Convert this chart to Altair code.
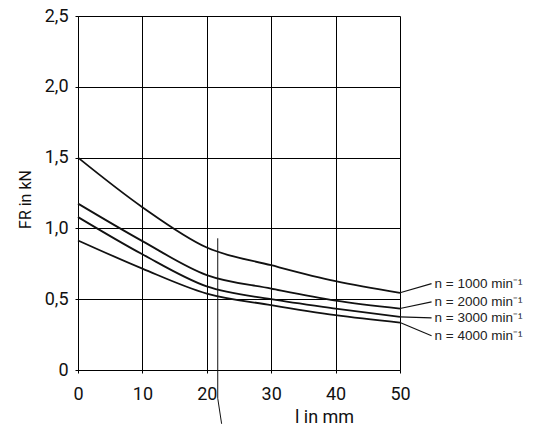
import altair as alt
import pandas as pd

# ---- data ----
x_vals = [0, 10, 20, 30, 40, 50]
n1000 = [1.50, 1.15, 0.865, 0.74, 0.627, 0.545]
n2000 = [1.175, 0.91, 0.67, 0.575, 0.49, 0.434]
n3000 = [1.08, 0.817, 0.59, 0.50, 0.434, 0.375]
n4000 = [0.915, 0.716, 0.54, 0.458, 0.387, 0.335]
series_names = ["n = 1000 min⁻¹", "n = 2000 min⁻¹", "n = 3000 min⁻¹", "n = 4000 min⁻¹"]
series_vals = [n1000, n2000, n3000, n4000]
label_x = [54.9, 54.9, 54.9, 54.9]
label_y = [0.61, 0.481, 0.368, 0.242]
x_ticks = [0, 10, 20, 30, 40, 50]
y_ticks = [0, 0.5, 1.0, 1.5, 2.0, 2.5]
pointer_x = [21.7, 21.7, 22.3]
pointer_y = [0.93, -0.2, -0.38]

AXF = "Roboto, Liberation Sans, sans-serif"
REG = "Liberation Sans, Arial, sans-serif"

rows = []
for name, vals in zip(series_names, series_vals):
    for xv, yv in zip(x_vals, vals):
        rows.append({"series": name, "l": xv, "F": yv})
curves_df = pd.DataFrame(rows)

lead_rows = []
for i, (name, vals) in enumerate(zip(series_names, series_vals)):
    lead_rows.append({"series": name, "l": x_vals[-1], "F": vals[-1], "o": 0})
    lead_rows.append({"series": name, "l": label_x[i], "F": label_y[i], "o": 1})
lead_df = pd.DataFrame(lead_rows)

lab_df = pd.DataFrame({"series": series_names, "l": label_x, "F": label_y})
ptr_df = pd.DataFrame({"l": pointer_x, "F": pointer_y, "o": [0, 1, 2]})

xscale = alt.Scale(domain=[0, 50], nice=False, zero=False)
yscale = alt.Scale(domain=[0, 2.5], nice=False, zero=False)

xaxis = alt.Axis(
    values=x_ticks, grid=True, gridColor="black", gridWidth=1, gridOpacity=1,
    domainColor="black", domainWidth=1, tickColor="black", tickSize=3,
    labelFont=AXF, labelFontSize=18, labelColor="#111", labelPadding=12,
    labelFlush=False, labelOverlap=False,
    title="l in mm", titleFont=AXF, titleFontSize=18, titleFontWeight="normal",
    titleColor="#111", titleX=246, titleY=52, titleAlign="center",
    titleBaseline="alphabetic",
)
yaxis = alt.Axis(
    values=y_ticks, grid=True, gridColor="black", gridWidth=1, gridOpacity=1,
    domainColor="black", domainWidth=1, tickColor="black", tickSize=3,
    labelFont=AXF, labelFontSize=18, labelColor="#111", labelPadding=7,
    labelFlush=False, labelOverlap=False,
    labelExpr="datum.value == 0 ? '0' : replace(format(datum.value, '.1f'), '.', ',')",
    title="FR in kN", titleFont=AXF, titleFontSize=16, titleFontWeight="normal",
    titleColor="#111", titleX=-53, titleY=183, titleAlign="center",
    titleBaseline="middle", titleAngle=270,
)

curves = alt.Chart(curves_df).mark_line(
    color="#111", strokeWidth=1.8, interpolate="monotone"
).encode(
    x=alt.X("l:Q", scale=xscale, axis=xaxis),
    y=alt.Y("F:Q", scale=yscale, axis=yaxis),
    detail="series:N",
)

leaders = alt.Chart(lead_df).mark_line(color="#111", strokeWidth=1.1).encode(
    x=alt.X("l:Q", scale=xscale),
    y=alt.Y("F:Q", scale=yscale),
    detail="series:N",
    order="o:Q",
)

labels = alt.Chart(lab_df).mark_text(
    align="left", baseline="middle", dx=3, font=REG, fontSize=13.5, color="#222"
).encode(
    x=alt.X("l:Q", scale=xscale),
    y=alt.Y("F:Q", scale=yscale),
    text="series:N",
)

pointer = alt.Chart(ptr_df).mark_line(color="#111", strokeWidth=1).encode(
    x=alt.X("l:Q", scale=xscale),
    y=alt.Y("F:Q", scale=yscale),
    order="o:Q",
)

chart = alt.layer(curves, leaders, pointer, labels).properties(
    width=322, height=354,
    autosize=alt.AutoSizeParams(type="none"),
    padding={"left": 70, "top": 8, "right": 131, "bottom": 56},
    background="white",
).configure_view(stroke="transparent")

chart.save("out.html", embed_options={"renderer": "svg", "actions": False})
